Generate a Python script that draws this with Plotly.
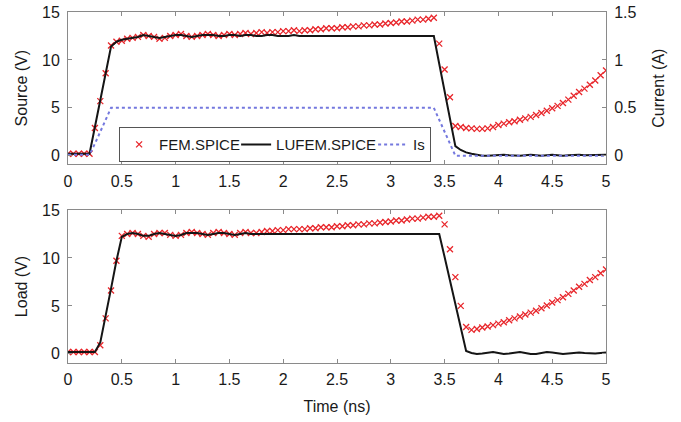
import plotly.graph_objects as go

# ---------------- data ----------------
time_ns = [0.0, 0.05, 0.1, 0.15, 0.2, 0.25, 0.3, 0.35, 0.4, 0.45,
           0.5, 0.55, 0.6, 0.65, 0.7, 0.75, 0.8, 0.85, 0.9, 0.95,
           1.0, 1.05, 1.1, 1.15, 1.2, 1.25, 1.3, 1.35, 1.4, 1.45,
           1.5, 1.55, 1.6, 1.65, 1.7, 1.75, 1.8, 1.85, 1.9, 1.95,
           2.0, 2.05, 2.1, 2.15, 2.2, 2.25, 2.3, 2.35, 2.4, 2.45,
           2.5, 2.55, 2.6, 2.65, 2.7, 2.75, 2.8, 2.85, 2.9, 2.95,
           3.0, 3.05, 3.1, 3.15, 3.2, 3.25, 3.3, 3.35, 3.4, 3.45,
           3.5, 3.55, 3.6, 3.65, 3.7, 3.75, 3.8, 3.85, 3.9, 3.95,
           4.0, 4.05, 4.1, 4.15, 4.2, 4.25, 4.3, 4.35, 4.4, 4.45,
           4.5, 4.55, 4.6, 4.65, 4.7, 4.75, 4.8, 4.85, 4.9, 4.95, 5.0]

source_fem = [0.2, 0.2, 0.2, 0.2, 0.2, 2.9, 5.7, 8.6, 11.5, 11.9,
              12.0, 12.2, 12.3, 12.4, 12.6, 12.5, 12.4, 12.2, 12.3, 12.5,
              12.6, 12.7, 12.5, 12.4, 12.5, 12.6, 12.7, 12.6, 12.5, 12.6,
              12.7, 12.6, 12.7, 12.8, 12.7, 12.8, 12.9, 12.8, 12.9, 12.9,
              13.0, 13.0, 13.1, 13.0, 13.1, 13.1, 13.2, 13.2, 13.3, 13.3,
              13.3, 13.4, 13.4, 13.5, 13.5, 13.6, 13.6, 13.7, 13.7, 13.8,
              13.85, 13.9, 14.0, 14.0, 14.1, 14.2, 14.2, 14.3, 14.4, 11.7,
              9.0, 6.1, 3.1, 3.0, 2.9, 2.85, 2.8, 2.8, 2.85, 3.0,
              3.2, 3.35, 3.5, 3.6, 3.75, 3.9, 4.05, 4.25, 4.45, 4.7,
              4.95, 5.2, 5.5, 5.85, 6.25, 6.65, 7.0, 7.4, 7.85, 8.4, 8.9]

source_lufem = [0.2, 0.2, 0.2, 0.2, 0.2, 3.0, 5.8, 8.6, 11.4, 11.9,
                12.1, 12.2, 12.3, 12.4, 12.6, 12.5, 12.4, 12.3, 12.4, 12.5,
                12.6, 12.6, 12.5, 12.4, 12.5, 12.6, 12.6, 12.6, 12.5, 12.5,
                12.6, 12.6, 12.5, 12.6, 12.6, 12.5, 12.5, 12.6, 12.6, 12.5,
                12.5, 12.5, 12.6, 12.5, 12.5, 12.5, 12.5, 12.5, 12.5, 12.5,
                12.5, 12.5, 12.5, 12.5, 12.5, 12.5, 12.5, 12.5, 12.5, 12.5,
                12.5, 12.5, 12.5, 12.5, 12.5, 12.5, 12.5, 12.5, 12.5, 9.6,
                6.75, 3.9, 1.0, 0.6, 0.35, 0.2, 0.1, 0.0, 0.0, 0.05,
                0.1, 0.1, 0.05, 0.0, 0.0, 0.05, 0.1, 0.05, 0.0, 0.05,
                0.1, 0.05, 0.0, 0.05, 0.1, 0.1, 0.05, 0.05, 0.1, 0.1, 0.1]

source_current = [0.01, 0.01, 0.01, 0.01, 0.01, 0.125, 0.25, 0.375, 0.5, 0.5,
                  0.5, 0.5, 0.5, 0.5, 0.5, 0.5, 0.5, 0.5, 0.5, 0.5,
                  0.5, 0.5, 0.5, 0.5, 0.5, 0.5, 0.5, 0.5, 0.5, 0.5,
                  0.5, 0.5, 0.5, 0.5, 0.5, 0.5, 0.5, 0.5, 0.5, 0.5,
                  0.5, 0.5, 0.5, 0.5, 0.5, 0.5, 0.5, 0.5, 0.5, 0.5,
                  0.5, 0.5, 0.5, 0.5, 0.5, 0.5, 0.5, 0.5, 0.5, 0.5,
                  0.5, 0.5, 0.5, 0.5, 0.5, 0.5, 0.5, 0.5, 0.5, 0.375,
                  0.25, 0.125, 0.0, 0.0, 0.0, 0.0, 0.0, 0.0, 0.0, 0.0,
                  0.0, 0.0, 0.0, 0.0, 0.0, 0.0, 0.0, 0.0, 0.0, 0.0,
                  0.0, 0.0, 0.0, 0.0, 0.0, 0.0, 0.0, 0.0, 0.0, 0.0, 0.0]

load_fem = [0.2, 0.2, 0.2, 0.2, 0.2, 0.2, 0.9, 3.7, 6.6, 9.7,
            12.3, 12.5, 12.6, 12.5, 12.3, 12.2, 12.5, 12.6, 12.6, 12.4,
            12.3, 12.4, 12.6, 12.7, 12.6, 12.5, 12.4, 12.6, 12.7, 12.6,
            12.5, 12.4, 12.6, 12.7, 12.6, 12.6, 12.7, 12.8, 12.8, 12.9,
            12.9, 13.0, 13.0, 13.0, 13.0, 13.1, 13.1, 13.2, 13.2, 13.2,
            13.3, 13.3, 13.4, 13.4, 13.5, 13.5, 13.6, 13.6, 13.7, 13.75,
            13.8, 13.9, 13.9, 14.0, 14.1, 14.1, 14.2, 14.3, 14.3, 14.4,
            13.5, 10.9, 8.0, 5.0, 2.8, 2.5, 2.6, 2.75, 2.85, 3.0,
            3.15, 3.3, 3.5, 3.7, 3.9, 4.1, 4.3, 4.5, 4.75, 5.05,
            5.35, 5.6, 5.9, 6.25, 6.6, 7.0, 7.3, 7.7, 8.0, 8.4, 8.8]

load_lufem = [0.2, 0.2, 0.2, 0.2, 0.2, 0.2, 1.2, 3.9, 6.8, 9.7,
              12.2, 12.5, 12.6, 12.5, 12.3, 12.3, 12.5, 12.6, 12.5, 12.4,
              12.3, 12.4, 12.6, 12.6, 12.6, 12.5, 12.4, 12.5, 12.6, 12.6,
              12.5, 12.4, 12.5, 12.6, 12.5, 12.5, 12.5, 12.5, 12.5, 12.5,
              12.5, 12.5, 12.5, 12.5, 12.5, 12.5, 12.5, 12.5, 12.5, 12.5,
              12.5, 12.5, 12.5, 12.5, 12.5, 12.5, 12.5, 12.5, 12.5, 12.5,
              12.5, 12.5, 12.5, 12.5, 12.5, 12.5, 12.5, 12.5, 12.5, 12.5,
              10.1, 7.6, 5.2, 2.7, 0.3, 0.1, 0.0, 0.05, 0.15, 0.2,
              0.1, 0.0, 0.05, 0.15, 0.2, 0.1, 0.0, 0.0, 0.1, 0.2,
              0.15, 0.05, 0.0, 0.05, 0.1, 0.15, 0.1, 0.05, 0.05, 0.1, 0.15]

x_ticks = [0, 0.5, 1, 1.5, 2, 2.5, 3, 3.5, 4, 4.5, 5]
v_ticks = [0, 5, 10, 15]
i_ticks = [0, 0.5, 1, 1.5]

# ---------------- styles ----------------
RED = "#e8262b"
BLACK = "#151515"
BLUE = "#7478de"
AXIS = "#8a8a8a"
FONT = "Liberation Sans, Arial, sans-serif"

fig = go.Figure()

fig.add_trace(go.Scatter(x=time_ns, y=source_fem, mode="markers", name="FEM.SPICE",
                         marker=dict(symbol="x-thin", size=6, line=dict(color=RED, width=1.3)),
                         xaxis="x", yaxis="y", legendgroup="fem", legendwidth=72))
fig.add_trace(go.Scatter(x=time_ns, y=source_lufem, mode="lines", name="LUFEM.SPICE",
                         line=dict(color=BLACK, width=2),
                         xaxis="x", yaxis="y", legendgroup="lufem", legendwidth=92))
fig.add_trace(go.Scatter(x=time_ns, y=source_current, mode="lines", name="Is",
                         line=dict(color=BLUE, width=2, dash="dot"),
                         xaxis="x", yaxis="y3"))
fig.add_trace(go.Scatter(x=time_ns, y=load_fem, mode="markers", name="FEM.SPICE",
                         marker=dict(symbol="x-thin", size=6, line=dict(color=RED, width=1.3)),
                         xaxis="x2", yaxis="y2", showlegend=False, legendgroup="fem"))
fig.add_trace(go.Scatter(x=time_ns, y=load_lufem, mode="lines", name="LUFEM.SPICE",
                         line=dict(color=BLACK, width=2),
                         xaxis="x2", yaxis="y2", showlegend=False, legendgroup="lufem"))

axis_common = dict(showgrid=False, zeroline=False, showline=True, linecolor=AXIS, linewidth=1,
                   ticks="inside", ticklen=4, tickcolor=AXIS, tickwidth=1, automargin=False,
                   tickfont=dict(size=16, color="#1a1a1a", family=FONT))

top_dom = [0.566, 1.0]
bot_dom = [0.0, 0.436]

fig.update_layout(
    width=681, height=422,
    margin=dict(l=68, r=75, t=12, b=59),
    paper_bgcolor="white", plot_bgcolor="white",
    font=dict(family=FONT, size=16, color="#1a1a1a"),
    showlegend=True,
    legend=dict(orientation="h", x=0.095, y=0.672, xanchor="left", yanchor="top",
                bgcolor="white", bordercolor="#555555", borderwidth=1,
                font=dict(size=15, family=FONT, color="#1a1a1a"),
                itemwidth=30, tracegroupgap=0),
    xaxis=dict(axis_common, domain=[0, 1], range=[0, 5], anchor="y", tickvals=x_ticks,
               mirror="ticks", ticklabelstandoff=2),
    yaxis=dict(axis_common, domain=top_dom, range=[-0.9, 15], tickvals=v_ticks,
               mirror="ticks", ticklabelstandoff=4,
               title=dict(text="Source (V)", standoff=10, font=dict(size=16))),
    yaxis3=dict(axis_common, overlaying="y", side="right", anchor="x",
                range=[-0.09, 1.5], tickvals=i_ticks, ticktext=["0", "0.5", "1", "1.5"],
                ticklabelstandoff=4,
                title=dict(text="Current (A)", standoff=17, font=dict(size=16))),
    xaxis2=dict(axis_common, domain=[0, 1], range=[0, 5], anchor="y2", tickvals=x_ticks,
                mirror="ticks", ticklabelstandoff=2,
                title=dict(text="Time (ns)", standoff=13, font=dict(size=16))),
    yaxis2=dict(axis_common, domain=bot_dom, range=[-0.95, 15], tickvals=v_ticks,
                mirror="ticks", ticklabelstandoff=4,
                title=dict(text="Load (V)", standoff=10, font=dict(size=16))),
)

# remove the browser's default 8px body margin so the figure sits at the page origin
fig.write_html("out.html", config={"displayModeBar": False},
               post_script="document.body.style.margin='0';")
